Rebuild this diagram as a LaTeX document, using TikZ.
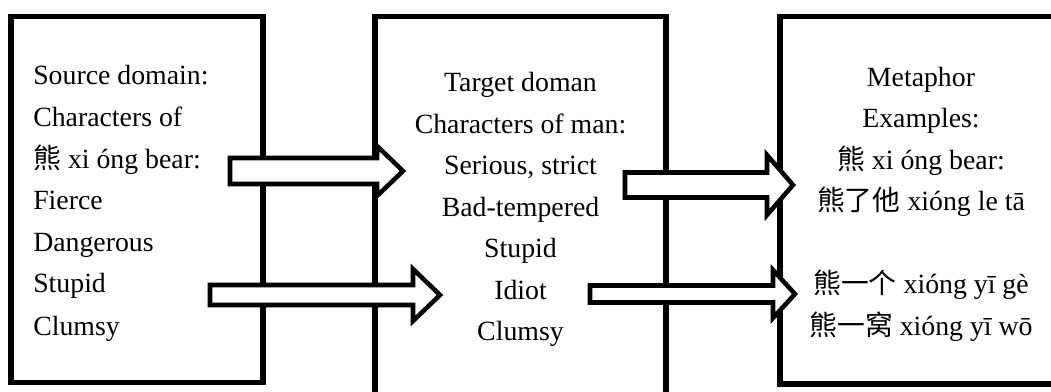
\documentclass[tikz,border=0pt]{standalone}
\usepackage{fontspec}
\setmainfont{Liberation Serif}
\newfontfamily\cjk{Noto Sans CJK SC}
\usetikzlibrary{calc}
\tikzset{
  boxframe/.style={draw=black, line width=4.3pt, fill=none, inner sep=0pt, shape=rectangle},
  blockarr/.style={draw=black, fill=white, line width=3.4pt, line join=miter},
  txt/.style={inner sep=0pt, font=\fontsize{20.85}{25}\selectfont},
}
% #1 start (mid of tail), #2 tip, #3 body half height, #4 head half height, #5 head length
\newcommand{\blockarrow}[5]{%
  \draw[blockarr] ($(#1)+(0,-#3)$) -- ($(#2)+(-#5,-#3)$) -- ($(#2)+(-#5,-#4)$) -- (#2)
    -- ($(#2)+(-#5,#4)$) -- ($(#2)+(-#5,#3)$) -- ($(#1)+(0,#3)$) -- cycle;}
\begin{document}
\begin{tikzpicture}[x=0.75pt,y=-0.75pt]
\useasboundingbox (0,0) rectangle (1051,392);
\clip (0,0) rectangle (1051,392);
% boxes
\node[boxframe, minimum width=189pt, minimum height=274.5pt] (src) at (137,199.5) {};
\node[boxframe, minimum width=218.25pt, minimum height=310.1pt] (tgt) at (520.5,223.25) {};
\node[boxframe, minimum width=211.5pt, minimum height=275.6pt] (met) at (921,200.25) {};
% left text
\node[txt, anchor=base west] (s1) at (33,85) {Source domain:};
\node[txt, anchor=base west] (s2) at (33,127) {Characters of};
\node[txt, anchor=base west] (s3) at (33,169) {{\cjk 熊} xi óng bear:};
\node[txt, anchor=base west] (s4) at (33,210) {Fierce};
\node[txt, anchor=base west] (s5) at (33,252) {Dangerous};
\node[txt, anchor=base west] (s6) at (33,293) {Stupid};
\node[txt, anchor=base west] (s7) at (33,335) {Clumsy};
% middle text
\node[txt, anchor=base] (t1) at (520.5,92) {Target doman};
\node[txt, anchor=base] (t2) at (520.5,133.5) {Characters of man:};
\node[txt, anchor=base] (t3) at (520.5,175) {Serious, strict};
\node[txt, anchor=base] (t4) at (520.5,216.5) {Bad-tempered};
\node[txt, anchor=base] (t5) at (520.5,258) {Stupid};
\node[txt, anchor=base] (t6) at (520.5,299.5) {Idiot};
\node[txt, anchor=base] (t7) at (520.5,341) {Clumsy};
% right text
\node[txt, anchor=base] (m1) at (921,87) {Metaphor};
\node[txt, anchor=base] (m2) at (921,128) {Examples:};
\node[txt, anchor=base] (m3) at (921,170) {{\cjk 熊} xi óng bear:};
\node[txt, anchor=base] (m4) at (921,211) {{\cjk 熊了他} xióng le tā};
\node[txt, anchor=base] (m5) at (921,294) {{\cjk 熊一个} xióng yī gè};
\node[txt, anchor=base] (m6) at (921,335) {{\cjk 熊一窝} xióng yī wō};
% arrows
\coordinate (a1s) at (230,171);  \coordinate (a1e) at (403,171);
\coordinate (a2s) at (210,295);  \coordinate (a2e) at (440,295);
\coordinate (a3s) at (625,185);  \coordinate (a3e) at (793,185);
\coordinate (a4s) at (590,294);  \coordinate (a4e) at (795,294);
\blockarrow{a1s}{a1e}{13}{25}{26}
\blockarrow{a2s}{a2e}{10}{26}{27}
\blockarrow{a3s}{a3e}{12.5}{30}{26}
\blockarrow{a4s}{a4e}{8.5}{24}{22}
\end{tikzpicture}
\end{document}
